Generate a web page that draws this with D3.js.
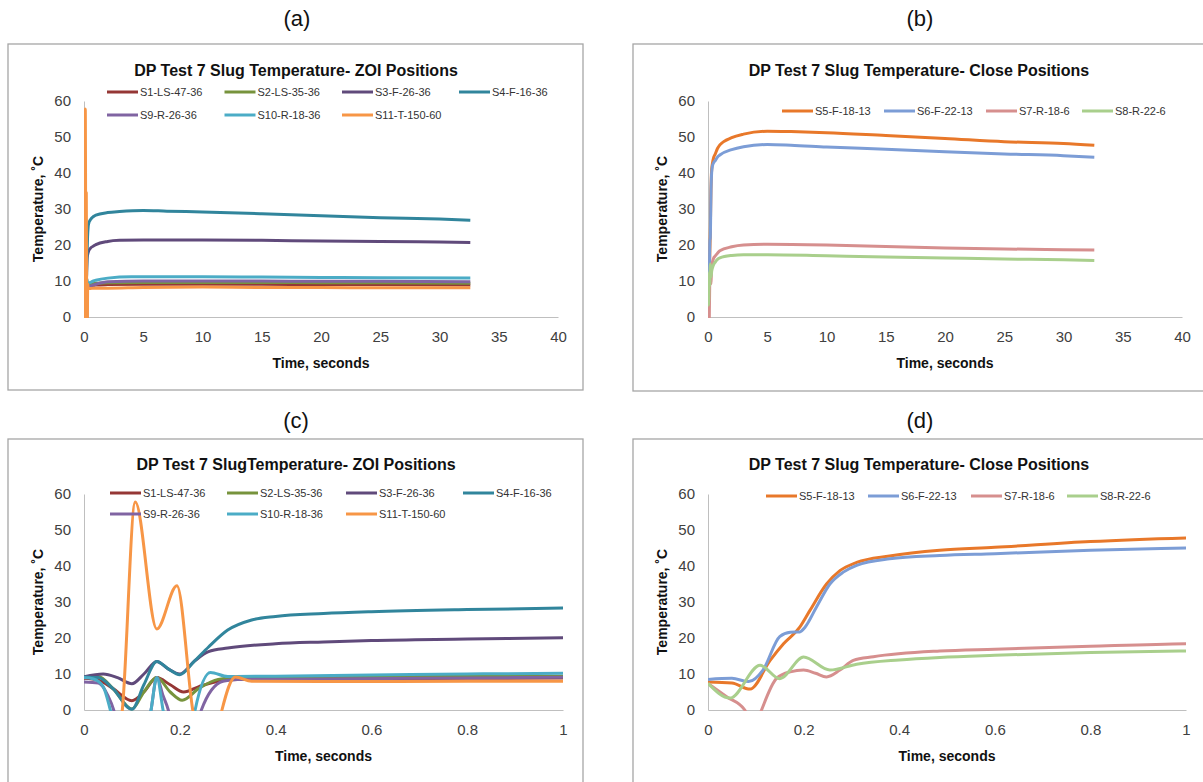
<!DOCTYPE html>
<html>
<head>
<meta charset="utf-8">
<script src="https://cdn.jsdelivr.net/npm/d3@7"></script>
<style>
  body { margin: 0; background: #fff; }
  svg { display: block; font-family: "Liberation Sans", Arial, sans-serif; }
</style>
</head>
<body>
<div id="fig"></div>
<script>
// ---- data: [time s, temperature C] ----
const s1  = [[0,8.8],[0.03,8.3],[0.06,6],[0.1,2.6],[0.125,5],[0.152,9.0],[0.18,7],[0.208,5.0],[0.24,6.5],[0.28,8.0],[0.32,8.5],[0.5,8.6],[0.8,8.8],[1,8.9],
             [2,9.0],[5,9.1],[10,9.1],[15,9.1],[20,9.0],[25,9.0],[32.6,8.9]];
const s2  = [[0,9.2],[0.03,9.3],[0.06,6],[0.1,0.3],[0.125,5],[0.152,9.0],[0.18,5],[0.205,2.7],[0.24,6],[0.28,8.5],[0.32,9.0],[0.5,9.2],[0.8,9.4],[1,9.4],
             [2,9.5],[5,9.6],[10,9.6],[15,9.6],[20,9.5],[25,9.5],[32.6,9.4]];
const s3  = [[0,9.2],[0.04,10.0],[0.07,9],[0.1,7.3],[0.125,10],[0.152,13.5],[0.175,11.5],[0.2,10.0],[0.23,13.5],[0.26,16.2],[0.3,17.2],[0.4,18.4],[0.5,18.9],[0.6,19.3],[0.8,19.7],[1,20.1],
             [2,21.0],[3,21.3],[5,21.4],[10,21.4],[15,21.3],[20,21.1],[25,21.0],[30,20.8],[32.6,20.7]];
const s4  = [[0,9.2],[0.03,9],[0.06,6],[0.1,0.2],[0.125,7],[0.152,13.5],[0.175,11.5],[0.2,9.8],[0.23,13.5],[0.26,17.5],[0.3,22.2],[0.35,25.0],[0.4,26.0],[0.5,26.8],[0.6,27.3],[0.8,27.9],[1,28.3],
             [2,29.0],[3,29.3],[5,29.6],[7,29.4],[10,29.2],[15,28.7],[20,28.1],[25,27.6],[30,27.2],[32.6,26.9]];
const s9  = [[0,7.8],[0.03,7.5],[0.05,4],[0.062,0],[0.1,-30],[0.14,0],[0.152,9.0],[0.165,4],[0.176,0],[0.21,-30],[0.245,0],[0.29,8.0],[0.32,8.5],[0.5,8.6],[0.8,8.9],[1,9.1],
             [2,9.8],[5,10.0],[10,10.0],[15,10.0],[20,9.9],[25,9.9],[32.6,9.8]];
const s10 = [[0,9.0],[0.02,8.6],[0.04,6.5],[0.055,0],[0.1,-30],[0.14,0],[0.152,9.0],[0.165,0],[0.2,-30],[0.232,0],[0.264,10.4],[0.3,9.3],[0.4,9.4],[0.6,9.7],[0.8,10.0],[1,10.2],
             [2,10.8],[4,11.2],[10,11.2],[15,11.1],[20,11.0],[25,10.9],[32.6,10.8]];
const s11 = [[0,-5],[0.05,-20],[0.08,0],[0.107,57.8],[0.152,22.5],[0.194,34.5],[0.227,0],[0.26,-20],[0.288,0],[0.316,9.2],[0.35,8.0],[0.5,7.9],[0.8,8.0],[1,8.0],
             [2,8.0],[5,8.2],[10,8.3],[15,8.2],[20,8.2],[25,8.1],[32.6,8.1]];

const s5  = [[0,7.8],[0.05,7.5],[0.088,5.8],[0.13,13.8],[0.158,18.4],[0.192,23],[0.213,27.6],[0.248,35],[0.276,38.7],[0.311,41],[0.38,42.8],[0.485,44.4],[0.6,45.2],[0.8,46.8],[1,47.8],
             [2,49.8],[3,50.8],[5,51.6],[7,51.5],[10,51.2],[15,50.4],[20,49.6],[25,48.7],[30,48.2],[32.6,47.7]];
const s6  = [[0,8.5],[0.05,8.8],[0.085,7.9],[0.115,11.1],[0.15,20.4],[0.172,21.6],[0.192,21.7],[0.203,23],[0.227,28.6],[0.255,35],[0.283,38.3],[0.311,40.2],[0.38,42],[0.485,42.9],[0.6,43.4],[0.8,44.4],[1,45.0],
             [2,46.5],[3,47.3],[5,47.9],[7,47.7],[10,47.2],[15,46.6],[20,45.9],[25,45.3],[30,44.8],[32.6,44.4]];
const s7  = [[0,7.4],[0.039,3.7],[0.077,0],[0.095,-6],[0.112,0],[0.143,8.7],[0.172,10.6],[0.2,11.1],[0.225,10.2],[0.248,9.2],[0.276,11.1],[0.304,13.8],[0.346,14.8],[0.485,16.4],[0.6,16.9],[0.8,17.7],[1,18.4],
             [2,19.5],[3,20.0],[5,20.2],[10,20.0],[15,19.6],[20,19.2],[25,18.9],[30,18.7],[32.6,18.6]];
const s8  = [[0,7.4],[0.046,3.3],[0.109,12.4],[0.15,8.7],[0.2,14.7],[0.255,11.1],[0.311,12.7],[0.4,13.9],[0.485,14.6],[0.6,15.2],[0.8,16.0],[1,16.4],
             [2,17.1],[3,17.3],[5,17.3],[10,17.0],[15,16.7],[20,16.4],[25,16.1],[30,15.9],[32.6,15.7]];

const zoiNames   = ['S1-LS-47-36','S2-LS-35-36','S3-F-26-36','S4-F-16-36','S9-R-26-36','S10-R-18-36','S11-T-150-60'];
const zoiSeries  = [s1, s2, s3, s4, s9, s10, s11];
const closeNames = ['S5-F-18-13','S6-F-22-13','S7-R-18-6','S8-R-22-6'];
const closeSeries = [s5, s6, s7, s8];

const yTicks     = [0, 10, 20, 30, 40, 50, 60];
const xTicksLong = [0, 5, 10, 15, 20, 25, 30, 35, 40];
const xTicksShort = [0, 0.2, 0.4, 0.6, 0.8, 1];

// colours
const zoiColors   = ['#953735', '#77933c', '#604a7b', '#31859c', '#8064a2', '#4bacc6', '#f79646'];
const closeColors = ['#e8782a', '#7c9dd6', '#d68f8e', '#a9cf8c'];

const width = 1203, height = 782;
const svg = d3.select('#fig').append('svg')
    .attr('width', width).attr('height', height);

let clipId = 0;

const panel = (o) => {
    let x = d3.scaleLinear().domain(o.xDomain).range([o.px0, o.px1]);
    let y = d3.scaleLinear().domain([0, 60]).range([o.py1, o.py0]);

    // frame
    svg.append('rect')
        .attr('x', o.fx).attr('y', o.fy).attr('width', o.fw).attr('height', o.fh)
        .attr('fill', 'none').attr('stroke', '#a6a6a6').attr('stroke-width', 1.3);

    // panel letter
    svg.append('text').attr('x', o.lx).attr('y', o.ly)
        .attr('text-anchor', 'middle').attr('dominant-baseline', 'central')
        .attr('font-size', 22).attr('fill', '#111').text(o.letter);

    // chart title
    svg.append('text').attr('x', o.tx).attr('y', o.ty)
        .attr('text-anchor', 'middle').attr('dominant-baseline', 'central')
        .attr('font-size', 16).attr('font-weight', 'bold').attr('fill', '#111').text(o.title);

    // axes
    let gy = svg.append('g').attr('transform', `translate(${o.px0},0)`)
        .call(d3.axisLeft(y).tickValues(yTicks).tickSize(0).tickSizeOuter(0).tickPadding(13));
    let gx = svg.append('g').attr('transform', `translate(0,${o.py1})`)
        .call(d3.axisBottom(x).tickValues(o.xTicks).tickSize(0).tickSizeOuter(0).tickPadding(14)
            .tickFormat(d3.format('~g')));
    [gy, gx].forEach(g => {
        g.select('.domain').attr('stroke', '#bfbfbf').attr('stroke-width', 1);
        g.selectAll('text').attr('fill', '#404040').attr('font-size', 15)
            .attr('font-family', '"Liberation Sans", Arial, sans-serif');
    });

    // axis titles
    svg.append('text')
        .attr('transform', `translate(${o.px0 - 46},${(o.py0 + o.py1) / 2}) rotate(-90)`)
        .attr('text-anchor', 'middle').attr('dominant-baseline', 'central')
        .attr('font-size', 14).attr('font-weight', 'bold').attr('fill', '#111')
        .text('Temperature, \u02DAC');
    svg.append('text').attr('x', (o.px0 + o.px1) / 2).attr('y', o.py1 + 46)
        .attr('text-anchor', 'middle').attr('dominant-baseline', 'central')
        .attr('font-size', 14).attr('font-weight', 'bold').attr('fill', '#111')
        .text('Time, seconds');

    // lines, clipped to plot area
    let cid = 'clip' + (clipId++);
    svg.append('clipPath').attr('id', cid).append('rect')
        .attr('x', o.px0).attr('y', o.py0 - 6)
        .attr('width', o.px1 - o.px0).attr('height', o.py1 - o.py0 + 7);

    let line = d3.line().x(d => x(d[0])).y(d => y(d[1])).curve(d3.curveMonotoneX);
    svg.append('g').attr('clip-path', `url(#${cid})`)
        .selectAll('path').data(o.series).enter().append('path')
        .attr('d', line)
        .attr('fill', 'none')
        .attr('stroke', (d, i) => o.colors[i])
        .attr('stroke-width', 3)
        .attr('stroke-linejoin', 'round');

    // legend
    let lg = svg.append('g');
    o.names.forEach((n, i) => {
        let col = i % o.legCols, row = Math.floor(i / o.legCols);
        let lx = o.legX[col], ly = o.legY[row];
        lg.append('line').attr('x1', lx).attr('x2', lx + 31).attr('y1', ly).attr('y2', ly)
            .attr('stroke', o.colors[i]).attr('stroke-width', 3);
        lg.append('text').attr('x', lx + 33).attr('y', ly)
            .attr('dominant-baseline', 'central').attr('font-size', 11).attr('fill', '#333')
            .text(n);
    });
};

panel({
    letter: '(a)', lx: 297, ly: 18,
    title: 'DP Test 7 Slug Temperature- ZOI Positions', tx: 296, ty: 70,
    fx: 8, fy: 44, fw: 575, fh: 346,
    px0: 84, px1: 558, py0: 101, py1: 317,
    xDomain: [0, 40], xTicks: xTicksLong,
    series: zoiSeries, names: zoiNames, colors: zoiColors,
    legCols: 4, legX: [107, 224.5, 342, 459], legY: [92, 115]
});

panel({
    letter: '(b)', lx: 920, ly: 18,
    title: 'DP Test 7 Slug Temperature- Close Positions', tx: 919, ty: 70,
    fx: 633, fy: 44, fw: 600, fh: 347,
    px0: 708, px1: 1182, py0: 101, py1: 317,
    xDomain: [0, 40], xTicks: xTicksLong,
    series: closeSeries, names: closeNames, colors: closeColors,
    legCols: 4, legX: [782, 884, 986, 1082], legY: [111]
});

panel({
    letter: '(c)', lx: 296, ly: 420,
    title: 'DP Test 7 SlugTemperature- ZOI Positions', tx: 296, ty: 464,
    fx: 8, fy: 439, fw: 575, fh: 360,
    px0: 84, px1: 563, py0: 494, py1: 710,
    xDomain: [0, 1], xTicks: xTicksShort,
    series: zoiSeries, names: zoiNames, colors: zoiColors,
    legCols: 4, legX: [110, 227, 346, 463], legY: [493, 514]
});

panel({
    letter: '(d)', lx: 920, ly: 420,
    title: 'DP Test 7 Slug Temperature- Close Positions', tx: 919, ty: 464,
    fx: 633, fy: 439, fw: 600, fh: 360,
    px0: 708, px1: 1186, py0: 494, py1: 710,
    xDomain: [0, 1], xTicks: xTicksShort,
    series: closeSeries, names: closeNames, colors: closeColors,
    legCols: 4, legX: [766, 868, 971, 1067], legY: [496]
});
</script>
</body>
</html>
